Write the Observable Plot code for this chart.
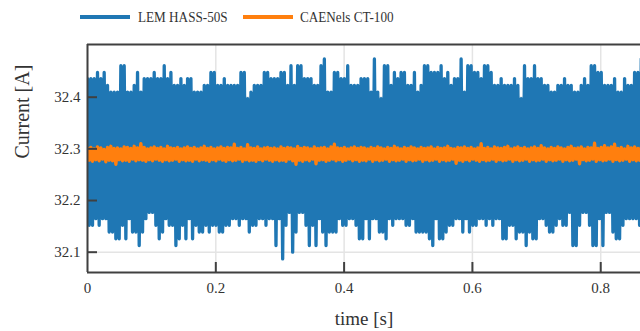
<!DOCTYPE html>
<html><head><meta charset="utf-8">
<script src="https://cdn.jsdelivr.net/npm/d3@7"></script>
<script src="https://cdn.jsdelivr.net/npm/@observablehq/plot@0.6"></script>
<style>
body{margin:0;background:#fff;width:640px;height:331px;overflow:hidden;font-family:"Liberation Serif",serif;}
#legend{position:relative;height:35px;}
.sw{position:absolute;top:15px;width:50px;height:4px;}
.lt{position:absolute;top:7px;font-size:15.5px;line-height:19px;color:#333;transform:scaleX(0.85);transform-origin:left center;white-space:nowrap;}
</style></head><body>
<div id="legend"></div>
<div id="chart"></div>
<script>
const seriesNames = ["LEM HASS-50S", "CAENels CT-100"];
const seriesColors = ["#1f77b4", "#ff7f0e"];
const xTicks = [0, 0.2, 0.4, 0.6, 0.8];
const yTicks = [32.1, 32.2, 32.3, 32.4];
const binDt = 0.0052; // sampling bin width in seconds

// LEM HASS-50S: per-bin maximum / minimum readings [A]
const blueHi = [
32.436,32.436,32.436,32.448,32.436,32.448,32.423,32.410,32.410,32.410,32.461,32.461,32.410,32.410,32.423,32.448,32.410,32.436,32.436,32.436,32.448,32.436,32.436,32.461,32.436,32.448,32.423,32.423,
32.436,32.423,32.436,32.436,32.410,32.410,32.410,32.423,32.423,32.448,32.448,32.423,32.423,32.436,32.423,32.423,32.423,32.423,32.448,32.448,32.397,32.410,32.423,32.423,32.423,32.448,32.448,32.436,
32.436,32.436,32.448,32.448,32.423,32.461,32.423,32.461,32.461,32.436,32.436,32.436,32.423,32.423,32.461,32.474,32.410,32.410,32.448,32.448,32.436,32.436,32.461,32.423,32.423,32.423,32.436,32.436,
32.436,32.410,32.474,32.410,32.397,32.461,32.461,32.423,32.448,32.436,32.448,32.448,32.423,32.423,32.448,32.410,32.423,32.461,32.461,32.448,32.448,32.448,32.461,32.436,32.448,32.423,32.436,32.436,
32.474,32.410,32.461,32.461,32.448,32.448,32.436,32.461,32.461,32.448,32.423,32.423,32.436,32.423,32.423,32.423,32.436,32.423,32.397,32.461,32.436,32.436,32.461,32.436,32.436,32.423,32.423,32.410,
32.410,32.423,32.423,32.436,32.423,32.423,32.410,32.410,32.423,32.436,32.423,32.461,32.461,32.448,32.448,32.423,32.423,32.423,32.436,32.410,32.410,32.436,32.423,32.423,32.448,32.448,32.474];
const blueLo = [
32.152,32.152,32.165,32.152,32.165,32.165,32.139,32.139,32.126,32.126,32.152,32.126,32.165,32.139,32.139,32.113,32.139,32.165,32.177,32.177,32.152,32.126,32.139,32.165,32.152,32.152,32.113,32.126,
32.152,32.126,32.165,32.126,32.152,32.139,32.139,32.152,32.139,32.152,32.152,32.139,32.139,32.152,32.152,32.165,32.165,32.152,32.165,32.165,32.139,32.152,32.152,32.165,32.165,32.152,32.165,32.165,
32.113,32.165,32.087,32.152,32.177,32.100,32.139,32.177,32.177,32.152,32.113,32.152,32.113,32.165,32.139,32.113,32.139,32.139,32.139,32.165,32.152,32.152,32.165,32.165,32.152,32.126,32.126,32.165,
32.126,32.165,32.165,32.139,32.139,32.126,32.165,32.152,32.165,32.165,32.165,32.152,32.152,32.165,32.139,32.139,32.139,32.139,32.126,32.113,32.165,32.126,32.126,32.139,32.152,32.152,32.165,32.165,
32.139,32.165,32.139,32.152,32.152,32.165,32.165,32.152,32.165,32.152,32.165,32.165,32.126,32.126,32.152,32.152,32.126,32.139,32.139,32.113,32.139,32.126,32.126,32.165,32.165,32.152,32.139,32.139,
32.152,32.165,32.152,32.152,32.177,32.113,32.113,32.152,32.177,32.177,32.152,32.113,32.113,32.165,32.113,32.177,32.177,32.139,32.126,32.126,32.152,32.165,32.165,32.165,32.165,32.152,32.152];

// CAENels CT-100: per-bin maximum / minimum readings [A]
const orangeHi = [
32.301,32.303,32.300,32.304,32.302,32.299,32.303,32.305,32.301,32.302,32.300,32.304,32.303,32.301,32.305,32.302,32.310,32.303,32.300,32.302,32.304,32.301,32.303,32.300,32.305,32.302,32.301,32.303,
32.300,32.302,32.304,32.301,32.303,32.300,32.302,32.305,32.301,32.303,32.300,32.302,32.304,32.301,32.303,32.302,32.309,32.301,32.303,32.300,32.308,32.302,32.301,32.304,32.300,32.302,32.303,32.301,
32.302,32.300,32.304,32.301,32.303,32.302,32.300,32.305,32.301,32.303,32.302,32.300,32.304,32.301,32.302,32.303,32.300,32.304,32.309,32.302,32.301,32.303,32.300,32.302,32.304,32.301,32.303,32.302,
32.300,32.303,32.301,32.304,32.302,32.300,32.303,32.301,32.305,32.302,32.300,32.303,32.301,32.304,32.302,32.300,32.303,32.301,32.302,32.304,32.300,32.303,32.301,32.302,32.305,32.301,32.300,32.303,
32.302,32.304,32.301,32.303,32.300,32.302,32.310,32.301,32.303,32.300,32.304,32.302,32.301,32.303,32.305,32.300,32.302,32.304,32.301,32.303,32.300,32.302,32.304,32.301,32.306,32.302,32.300,32.303,
32.301,32.304,32.302,32.300,32.303,32.305,32.301,32.302,32.304,32.300,32.303,32.302,32.311,32.301,32.303,32.306,32.302,32.304,32.309,32.301,32.303,32.300,32.305,32.302,32.304,32.301,32.303];
const orangeLo = [
32.278,32.276,32.279,32.277,32.280,32.275,32.278,32.277,32.270,32.279,32.277,32.278,32.276,32.280,32.277,32.279,32.278,32.276,32.279,32.277,32.280,32.278,32.276,32.279,32.277,32.278,32.280,32.276,
32.279,32.277,32.278,32.276,32.280,32.277,32.279,32.278,32.276,32.279,32.277,32.280,32.278,32.276,32.279,32.277,32.278,32.280,32.276,32.279,32.277,32.278,32.276,32.279,32.277,32.280,32.278,32.276,
32.279,32.277,32.278,32.276,32.280,32.277,32.270,32.278,32.276,32.279,32.277,32.280,32.271,32.278,32.279,32.276,32.278,32.280,32.277,32.279,32.276,32.278,32.280,32.277,32.279,32.276,32.278,32.277,
32.280,32.276,32.279,32.277,32.278,32.280,32.276,32.279,32.277,32.278,32.280,32.276,32.279,32.277,32.278,32.280,32.276,32.279,32.277,32.278,32.280,32.276,32.279,32.277,32.278,32.280,32.272,32.278,
32.276,32.279,32.277,32.280,32.278,32.276,32.279,32.277,32.278,32.280,32.276,32.279,32.277,32.278,32.280,32.276,32.279,32.277,32.278,32.280,32.276,32.279,32.277,32.278,32.280,32.276,32.279,32.277,
32.278,32.280,32.276,32.279,32.277,32.278,32.280,32.271,32.279,32.277,32.278,32.280,32.276,32.279,32.277,32.278,32.280,32.276,32.279,32.277,32.278,32.280,32.276,32.279,32.277,32.278,32.280];

function zig(hi, lo) {
  const out = [];
  for (let i = 0; i < hi.length; i++) {
    out.push({t: i * binDt, v: hi[i]});
    out.push({t: i * binDt + binDt / 2, v: lo[i]});
  }
  return out;
}
const blueData = zig(blueHi, blueLo);
const orangeData = zig(orangeHi, orangeLo);

// legend
const leg = document.getElementById("legend");
const legX = [[80, 138], [243, 300]];
seriesNames.forEach((n, i) => {
  const s = document.createElement("div");
  s.className = "sw"; s.style.left = legX[i][0] + "px"; s.style.background = seriesColors[i];
  leg.appendChild(s);
  const t = document.createElement("div");
  t.className = "lt"; t.style.left = legX[i][1] + "px"; t.textContent = n;
  leg.appendChild(t);
});

const H = 296, mT = 9, mB = 59, mL = 87, mR = 0;
const plotH = H - mT - mB, plotW = 640 - mL - mR;
const yDom = [32.0607, 32.502];
const axisCol = "#404040";

const chart = Plot.plot({
  width: 640, height: H,
  marginTop: mT, marginBottom: mB, marginLeft: mL, marginRight: mR,
  style: {fontFamily: "Liberation Serif, serif", fontSize: "15px", color: "#333", background: "white", overflow: "visible"},
  x: {domain: [0, 0.862]},
  y: {domain: yDom},
  marks: [
    Plot.gridX(xTicks, {stroke: "#e4e4e4", strokeOpacity: 1, strokeWidth: 1.5}),
    Plot.gridY(yTicks, {stroke: "#e4e4e4", strokeOpacity: 1, strokeWidth: 1.5}),
    Plot.line(blueData, {x: "t", y: "v", stroke: seriesColors[0], strokeWidth: 3.3, strokeLinejoin: "round", clip: true}),
    Plot.line(orangeData, {x: "t", y: "v", stroke: seriesColors[1], strokeWidth: 3.3, strokeLinejoin: "round", clip: true}),
    Plot.ruleX([0], {stroke: axisCol, strokeWidth: 2}),
    Plot.ruleY([yDom[0]], {stroke: axisCol, strokeWidth: 2}),
    Plot.ruleY([yDom[1]], {stroke: axisCol, strokeWidth: 2}),
    Plot.tickX(xTicks.filter(d => d > 0), {x: d => d, insetTop: plotH - 10, stroke: axisCol, strokeWidth: 2}),
    Plot.tickY(yTicks, {y: d => d, insetRight: plotW - 10, stroke: axisCol, strokeWidth: 2}),
    Plot.axisX(xTicks, {tickSize: 0, tickPadding: 10, label: null, fontSize: 15, tickFormat: d => d === 0 ? "0" : String(d), fill: "#333"}),
    Plot.axisY(yTicks, {tickSize: 0, tickPadding: 7, label: null, fontSize: 15, tickFormat: d => d.toFixed(1), fill: "#333"}),
    Plot.text(["time [s]"], {frameAnchor: "bottom", dy: 52, fontSize: 19, fill: "#333"}),
    Plot.text(["Current [A]"], {frameAnchor: "left", dx: -65, rotate: -90, fontSize: 20, fill: "#333"})
  ]
});
document.getElementById("chart").appendChild(chart);
</script>
</body></html>
